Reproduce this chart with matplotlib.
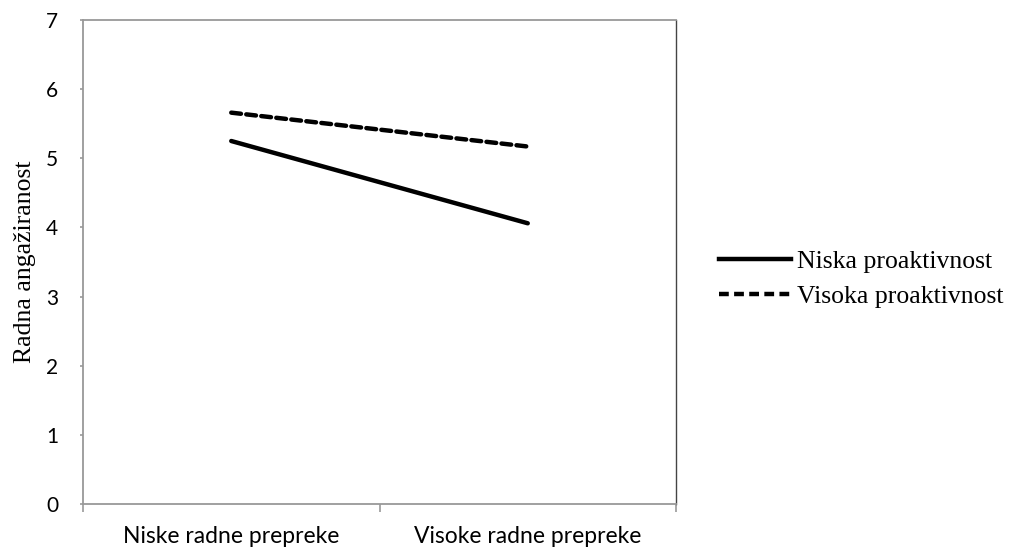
import matplotlib
matplotlib.use("Agg")
import matplotlib.pyplot as plt
from matplotlib.lines import Line2D

categories = ["Niske radne prepreke", "Visoke radne prepreke"]
niska = [5.25, 4.06]
visoka = [5.66, 5.17]
series_names = ["Niska proaktivnost", "Visoka proaktivnost"]
yticks = [0, 1, 2, 3, 4, 5, 6, 7]

W, H = 1013, 553
fig = plt.figure(figsize=(W/100, H/100), dpi=100)
ax = fig.add_axes([83/W, 1-504/H, (676-83)/W, (504-20)/H])

x = [0.5, 1.5]
ax.plot(x, niska, color="black", lw=3.2, solid_capstyle="round")
ax.plot(x, visoka, color="black", lw=3.2, dashes=(2.2, 1.2), dash_capstyle="round")
ax.set_xlim(0, 2)
ax.set_ylim(0, 7)
ax.set_yticks(yticks)
ax.set_yticklabels([str(v) for v in yticks], fontfamily="Lato", fontsize=15)
ax.set_xticks([0, 1, 2])
ax.set_xticklabels([])
ax.set_xticks(x, minor=True)
ax.set_xticklabels(categories, minor=True, fontfamily="Lato", fontsize=16.5)
ax.tick_params(axis="x", which="major", length=6, color="#999999", width=1.2, direction="out")
ax.tick_params(axis="x", which="minor", length=0, pad=16)
ax.tick_params(axis="y", length=2, color="#999999", width=1.2, pad=16)
for s in ["left", "top", "bottom"]:
    ax.spines[s].set_color("#999999")
    ax.spines[s].set_linewidth(1.3)
ax.spines["right"].set_color("#444444")
ax.spines["right"].set_linewidth(1.0)

ax.set_ylabel("Radna angažiranost", fontfamily="Liberation Serif", fontsize=18.5, labelpad=7)

handles = [Line2D([0], [0], color="black", lw=3.2),
           Line2D([0], [0], color="black", lw=3.2, dashes=(2.2, 1.2))]
fig.legend(handles, series_names, loc="center left", bbox_to_anchor=(696/W, 1-279/H),
           frameon=False, prop={"family": "Liberation Serif", "size": 18.5},
           handlelength=2.8, handletextpad=0.25, labelspacing=0.5)

fig.savefig("out.png", dpi=100)
